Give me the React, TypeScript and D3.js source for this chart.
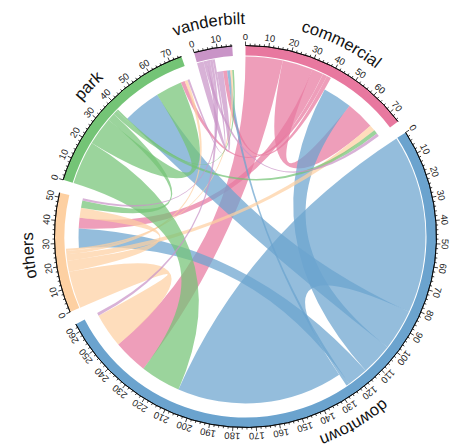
import React from "react";
import * as d3 from "d3";

// Sectors, clockwise from 12 o'clock
const sectors = ["commercial", "downtown", "others", "park", "vanderbilt"];
const sectorColors = ["#E8789F", "#6BA3CE", "#FDD0A2", "#74C476", "#C994C7"];

// Flows out of each sector, to [commercial, downtown, others, park, vanderbilt]
const fromCommercial = [14, 17, 5.2, 2, 2];
const fromDowntown = [14.5, 82, 9.5, 18.7, 1.5];
const fromOthers = [3, 17, 5, 1.5, 1];
const fromPark = [2, 19.9, 3.5, 13, 0.8];
const fromVanderbilt = [1.5, 1.5, 1.2, 1, 3];

const matrix = [fromCommercial, fromDowntown, fromOthers, fromPark, fromVanderbilt];

const W = 453;
const H = 444;
const CX = 245.5;
const CY = 236.5;
const R_OUT = 191;
const R_IN = 181;
const ROOT_SRC = 180;
const ROOT_TGT = 167;
const R_NAME = 212.5;
const GAP = (4 * Math.PI) / 180;
const LINK_OPACITY = 0.72;

type End = { startAngle: number; endAngle: number; radius: number };
type Link = { from: number; to: number; value: number; source: End; target: End };

function buildLayout() {
  const n = sectors.length;
  const outTot = matrix.map((r) => d3.sum(r));
  const inTot = sectors.map((_, j) => d3.sum(matrix, (r) => r[j]));
  const totals = outTot.map((v, i) => v + inTot[i]);
  const k = (2 * Math.PI - n * GAP) / d3.sum(totals);

  const scales: d3.ScaleLinear<number, number>[] = [];
  let a = 0;
  for (let i = 0; i < n; i++) {
    scales.push(d3.scaleLinear().domain([0, totals[i]]).range([a, a + totals[i] * k]));
    a += totals[i] * k + GAP;
  }

  const srcPos: Record<string, [number, number]> = {};
  const tgtPos: Record<string, [number, number]> = {};
  for (let i = 0; i < n; i++) {
    // outgoing roots first, widest first
    const outs = d3.range(n).filter((j) => matrix[i][j] > 0);
    outs.sort((p, q) => matrix[i][q] - matrix[i][p] || p - q);
    let c = 0;
    for (const j of outs) {
      srcPos[`${i}-${j}`] = [c, c + matrix[i][j]];
      c += matrix[i][j];
    }
    // then incoming roots, widest first
    const ins = d3.range(n).filter((s) => matrix[s][i] > 0);
    ins.sort((p, q) => matrix[q][i] - matrix[p][i] || p - q);
    for (const s of ins) {
      tgtPos[`${s}-${i}`] = [c, c + matrix[s][i]];
      c += matrix[s][i];
    }
  }

  const links: Link[] = [];
  for (let i = 0; i < n; i++) {
    for (let j = 0; j < n; j++) {
      const v = matrix[i][j];
      if (!(v > 0)) continue;
      const sp = srcPos[`${i}-${j}`];
      const tp = tgtPos[`${i}-${j}`];
      links.push({
        from: i,
        to: j,
        value: v,
        source: { startAngle: scales[i](sp[0]), endAngle: scales[i](sp[1]), radius: ROOT_SRC },
        target: { startAngle: scales[j](tp[0]), endAngle: scales[j](tp[1]), radius: ROOT_TGT },
      });
    }
  }
  return { totals, scales, links };
}

const deg = (r: number) => (r * 180) / Math.PI;

export default function App() {
  const { totals, scales, links } = buildLayout();
  const ribbon = d3.ribbon<Link, End>();
  const trackArc = d3.arc<any>();
  const font = "'Liberation Sans', Arial, Helvetica, sans-serif";

  return (
    <svg
      width={W}
      height={H}
      style={{ position: "absolute", left: 0, top: 0, background: "#fff" }}
      fontFamily={font}
    >
      <g transform={`translate(${CX},${CY})`}>
        <defs>
          {sectors.map((name, i) => {
            const [a0, a1] = scales[i].range();
            const mid = (a0 + a1) / 2;
            const span = 0.42;
            const r = R_NAME;
            const s = mid - span;
            const e = mid + span;
            const d = `M${r * Math.sin(s)},${-r * Math.cos(s)} A${r},${r} 0 0 1 ${r * Math.sin(e)},${-r * Math.cos(e)}`;
            return <path key={name} id={`name-path-${i}`} d={d} fill="none" />;
          })}
        </defs>

        {/* links */}
        <g>
          {links.map((l, idx) => (
            <path
              key={idx}
              d={ribbon(l) as unknown as string}
              fill={sectorColors[l.from]}
              fillOpacity={LINK_OPACITY}
              stroke="none"
            />
          ))}
        </g>

        {/* sector tracks */}
        {sectors.map((name, i) => {
          const [a0, a1] = scales[i].range();
          return (
            <path
              key={name}
              d={trackArc({ innerRadius: R_IN, outerRadius: R_OUT, startAngle: a0, endAngle: a1 }) as string}
              fill={sectorColors[i]}
            />
          );
        })}

        {/* axes */}
        {sectors.map((name, i) => {
          const [a0, a1] = scales[i].range();
          const axisLine = trackArc({ innerRadius: R_OUT, outerRadius: R_OUT, startAngle: a0, endAngle: a1 }) as string;
          const ticks = d3.range(0, totals[i] + 1e-9, 2);
          return (
            <g key={name}>
              <path d={axisLine} fill="none" stroke="#000" strokeWidth={0.8} />
              {ticks.map((v) => {
                const ang = deg(scales[i](v));
                const major = Math.round(v) % 10 === 0;
                return (
                  <g key={v} transform={`rotate(${ang})`}>
                    <line x1={0} x2={0} y1={-R_OUT} y2={-R_OUT - (major ? 4 : 2)} stroke="#000" strokeWidth={0.7} />
                    {major && (
                      <text
                        x={0}
                        y={-R_OUT - 5.5}
                        textAnchor="middle"
                        fontSize={9.5}
                        fill="#222"
                      >
                        {v}
                      </text>
                    )}
                  </g>
                );
              })}
            </g>
          );
        })}

        {/* sector names */}
        {sectors.map((name, i) => (
          <text key={name} fontSize={16.5} fill="#111">
            <textPath href={`#name-path-${i}`} startOffset="50%" textAnchor="middle">
              {name}
            </textPath>
          </text>
        ))}
      </g>
    </svg>
  );
}
